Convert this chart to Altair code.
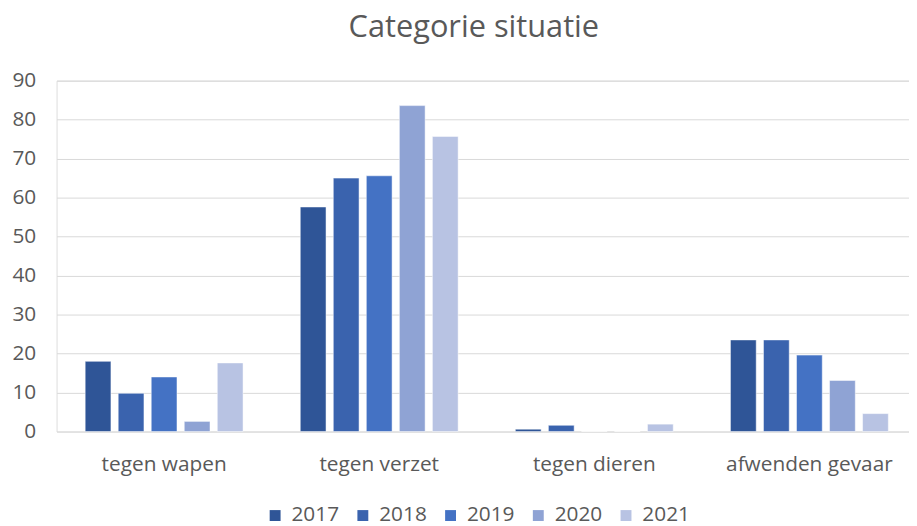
import altair as alt
import pandas as pd

categories = ["tegen wapen", "tegen verzet", "tegen dieren", "afwenden gevaar"]
years = ["2017", "2018", "2019", "2020", "2021"]
values = {
    "2017": [18.0, 57.6, 0.6, 23.5],
    "2018": [9.8, 65.0, 1.6, 23.5],
    "2019": [14.0, 65.6, 0.0, 19.6],
    "2020": [2.6, 83.6, 0.0, 13.1],
    "2021": [17.6, 75.7, 1.9, 4.6],
}
colors = ["#2F5597", "#3A63AE", "#4472C4", "#8FA3D4", "#B8C3E3"]
y_ticks = list(range(0, 100, 10))

rows = []
for y in years:
    for c, v in zip(categories, values[y]):
        rows.append({"categorie": c, "jaar": y, "waarde": v})
df = pd.DataFrame(rows)

FONT = "Open Sans"
GREY = "#595959"

chart = (
    alt.Chart(df)
    .mark_bar(stroke="white", strokeWidth=0.5)
    .encode(
        x=alt.X(
            "categorie:N",
            sort=categories,
            title=None,
            scale=alt.Scale(range=[0, 868], paddingInner=0.266, paddingOuter=0.133),
            axis=alt.Axis(
                labelAngle=0, domain=False, ticks=False, labelPadding=22,
                labelFont=FONT, labelFontSize=21, labelColor=GREY,
            ),
        ),
        xOffset=alt.XOffset(
            "jaar:N", sort=years,
            scale=alt.Scale(paddingInner=0.22, paddingOuter=0),
        ),
        y=alt.Y(
            "waarde:Q",
            title=None,
            scale=alt.Scale(domain=[0, 90], nice=False),
            axis=alt.Axis(
                values=y_ticks, domain=False, ticks=False, labelPadding=21,
                labelFont=FONT, labelFontSize=21, labelColor=GREY,
                gridColor="#D9D9D9", gridWidth=1,
            ),
        ),
        color=alt.Color(
            "jaar:N", sort=years,
            scale=alt.Scale(domain=years, range=colors),
            legend=alt.Legend(
                title=None, orient="none", direction="horizontal",
                legendX=210, legendY=428, padding=0,
                symbolType="square", symbolSize=121, symbolStrokeWidth=0,
                labelFont=FONT, labelFontSize=21, labelColor=GREY,
                labelOffset=6, columnPadding=12.5,
            ),
        ),
    )
    .properties(
        width=860,
        height=354,
        autosize=alt.AutoSizeParams(type="none"),
        padding={"left": 49, "top": 71, "right": 0, "bottom": 93},
        title=alt.Title(
            "Categorie situatie", font=FONT, fontSize=31, fontWeight="normal",
            color=GREY, anchor="middle", offset=26, dx=-9,
        ),
    )
    .configure_view(stroke=None)
    .configure(background="white")
)

chart.save("out.html", embed_options={"renderer": "svg", "actions": False})
